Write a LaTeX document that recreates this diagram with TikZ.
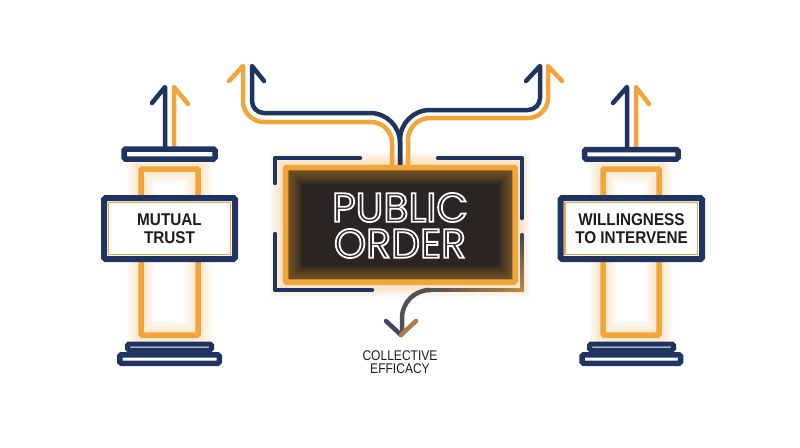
\documentclass[tikz,border=0pt]{standalone}
\usepackage{fontspec}
\usepackage{graphicx}
\setmainfont{Liberation Sans}
\newfontfamily\popfont{Poppins}
\usetikzlibrary{calc}
\definecolor{navy}{HTML}{1F3461}
\definecolor{orng}{HTML}{F2A53B}
\definecolor{darkbox}{HTML}{2A2522}
\definecolor{ink}{HTML}{1C1C1C}
\newcommand\sqz[1]{\scalebox{0.9}[1]{#1}}
\newcommand\sqc[1]{\scalebox{0.86}[1]{#1}}
\newcommand\outl[1]{\special{pdf:code 1 Tr 1.8 w}#1\special{pdf:code 0 Tr}}
\tikzset{
  navyline/.style={draw=navy, line width=4.5pt, line cap=round, line join=round},
  orline/.style={draw=orng, line width=4.5pt, line cap=round, line join=round},
  capbar/.style={draw=navy, line width=5.5pt, rounded corners=1.5pt, fill=white},
  labelbox/.style={draw=navy, line width=6pt, rounded corners=1.5pt, fill=white},
  innerline/.style={draw=orng, line width=1.4pt},
  column/.style={draw=orng, line width=5.5pt, rounded corners=1pt},
  lbl/.style={font={\fontsize{17}{17.6}\selectfont\bfseries}, text=ink, align=center, inner sep=0pt},
  cetext/.style={font={\fontsize{14}{13.5}\selectfont}, text=ink, align=center, inner sep=0pt},
  pub/.style={font={\popfont\fontsize{41}{36}\selectfont}, align=center, inner sep=0pt},
}
\begin{document}
\begin{tikzpicture}[x=1pt, y=-1pt]
\useasboundingbox (0,0) rectangle (800,447);
\fill[white] (0,0) rectangle (800,447);

% ---------- glows ----------
\foreach \w in {4,8,...,28} {
  \draw[orng, opacity=0.045, line width=\w pt] (141,169) rectangle (198,335);
  \draw[orng, opacity=0.045, line width=\w pt] (603,169) rectangle (659,335);
}
\foreach \w in {4,8,...,32}
  \draw[orng, opacity=0.05, line width=\w pt] (285.5,167.5) rectangle (515,282);

% ---------- left pillar ----------
\draw[column] (141,169) rectangle (198,335);
\draw[navyline] (152,103) -- (165,87) -- (165,150);
\draw[orline] (188,104) -- (174,87) -- (174,150);
\draw[capbar] (124,149) rectangle (215,159);
\draw[labelbox] (104,198) rectangle (235,259);
\draw[innerline] (108.5,202.5) rectangle (230.5,254.5);
\draw[capbar] (119.75,354.75) rectangle (219.25,363.25);
\draw[capbar, line width=5pt] (127.5,344) rectangle (211.5,350);
\node[lbl] (mt) at (169.5,228.5) {\sqz{MUTUAL}\\\sqz{TRUST}};

% ---------- right pillar ----------
\draw[column] (603,169) rectangle (659,335);
\draw[navyline] (613,103) -- (627,87) -- (627,150);
\draw[orline] (649,104) -- (636,87) -- (636,150);
\draw[capbar] (584.5,149.5) rectangle (678,159);
\draw[labelbox] (560.5,198) rectangle (702,259);
\draw[innerline] (565,202.5) rectangle (697.5,254.5);
\draw[capbar] (582,354.75) rectangle (680.5,363.25);
\draw[capbar, line width=5pt] (589.5,344) rectangle (673.5,350);
\node[lbl] (wi) at (631.5,228.5) {\sqz{WILLINGNESS}\\\sqz{TO INTERVENE}};

% ---------- top branching arrows ----------
\draw[orline] (229,81) -- (243,66) -- (243,101)
   arc[start angle=180, end angle=90, radius=21] -- (371,122)
   arc[start angle=270, end angle=360, radius=21] -- (392,170);
\draw[navyline] (264,81) -- (252,66) -- (252,101)
   arc[start angle=180, end angle=90, radius=12] -- (370,113)
   arc[start angle=270, end angle=360, radius=30] -- (400,170);
\draw[orline] (562,81) -- (548,66) -- (548,98)
   arc[start angle=0, end angle=90, radius=20] -- (430,118)
   arc[start angle=270, end angle=180, radius=22] -- (408,170);
\draw[navyline] (526,81) -- (540,66) -- (540,98)
   arc[start angle=0, end angle=90, radius=12] -- (430,110)
   arc[start angle=270, end angle=180, radius=30] -- (400,170);

% ---------- centre box ----------
\fill[darkbox] (285.5,167.5) rectangle (515,282);
\begin{scope}
  \clip (288,170) rectangle (512.5,279.5);
  \foreach \w in {4,8,...,28}
    \draw[orng!80!black, opacity=0.09, line width=\w pt] (288,170) rectangle (512.5,279.5);
\end{scope}
\draw[orng, line width=5.5pt, rounded corners=1pt] (285.5,167.5) rectangle (515,282);

% brackets
\draw[navyline] (360,158) -- (275,158) -- (275,183);
\draw[navyline] (275,234) -- (275,290) -- (372,290);
\draw[navyline] (438,158) -- (522,158) -- (522,218);
% gradient bracket leading to collective efficacy
\foreach \i in {0,...,9} {
  \pgfmathsetmacro\ya{235+5.5*\i}
  \pgfmathsetmacro\yb{235+5.5*(\i+1)}
  \pgfmathtruncatemacro\p{85-6*\i}
  \draw[line width=4.5pt, line cap=round, draw=navy!\p!orng] (522,\ya) -- (522,\yb);
}
\foreach \i in {0,...,9} {
  \pgfmathsetmacro\xa{522-9.2*\i}
  \pgfmathsetmacro\xb{522-9.2*(\i+1)}
  \pgfmathtruncatemacro\p{28+5*\i}
  \draw[line width=4.5pt, line cap=round, draw=navy!\p!orng] (\xa,290) -- (\xb,290);
}
\draw[line width=4.5pt, line cap=round, line join=round, draw=navy!75!orng]
   (430,290) arc[start angle=270, end angle=180, radius=28] -- (402,334);
\coordinate (cetip) at (401,335);
\draw[line width=4.5pt, line cap=round, draw=navy!85!orng] (386,321) -- (cetip);
\draw[line width=4.5pt, line cap=round, draw=navy!35!orng] (416,321) -- (cetip);
\node[cetext] (ce) at (400,362) {\sqc{COLLECTIVE}\\\sqc{EFFICACY}};

% outlined title
\node[pub, text=white] (po) at (400,225.5) {\outl{PUBLIC}\\\outl{ORDER}};
\end{tikzpicture}
\end{document}
